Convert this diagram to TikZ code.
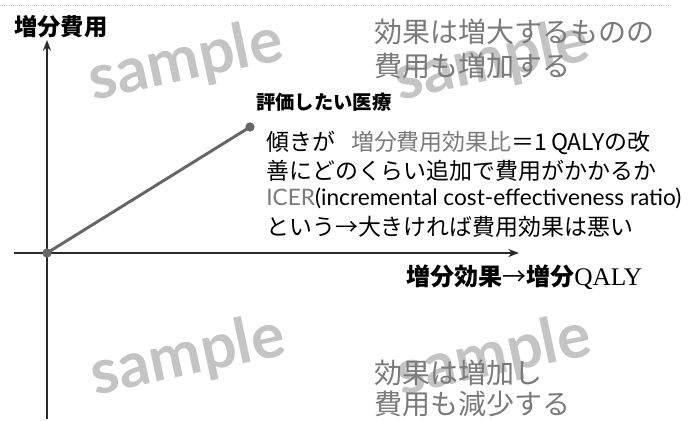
\documentclass[tikz,border=0pt]{standalone}
\usepackage{fontspec}
\setmainfont{Noto Sans CJK JP}
\newfontfamily\jp{Noto Sans CJK JP}
\newfontfamily\latin{Lato}
\newfontfamily\serifl{Liberation Serif}
\usetikzlibrary{arrows.meta}
\definecolor{txtgray}{HTML}{7A7A7A}
\definecolor{wmgray}{HTML}{C4C4C4}
\definecolor{linegray}{HTML}{666666}
\definecolor{axis}{HTML}{2A2A2A}
\tikzset{
  axisline/.style={draw=axis, line width=2.2pt, -{Stealth[length=8pt,width=6pt]}},
  wm/.style={text=wmgray, font=\latin\bfseries\fontsize{47}{47}\selectfont, rotate=12},
  body/.style={anchor=west, inner sep=0pt, font=\jp\fontsize{17.2}{20}\selectfont},
  note/.style={anchor=west, inner sep=0pt, text=txtgray, font=\jp\fontsize{21}{24}\selectfont},
  lbl/.style={anchor=west, inner sep=0pt, font=\jp\bfseries\fontsize{14.5}{18}\selectfont},
  dot/.style={circle, fill=linegray, inner sep=0pt, minimum size=7pt}
}
\begin{document}
\begin{tikzpicture}[x=0.75pt,y=-0.75pt]
\useasboundingbox (0,0) rectangle (696,421);
% watermarks
\node[wm] (w1) at (186,62) {sample};
\node[wm] (w2) at (492,62) {sample};
\node[wm] (w3) at (188,357) {sample};
\node[wm] (w4) at (494,357) {sample};
% top dotted rule
\coordinate (r1) at (0,5);
\coordinate (r2) at (672,5);
\draw[wmgray, densely dotted, line width=0.6pt] (r1) -- (r2);
% axes
\coordinate (o) at (47,253);
\coordinate (ybot) at (47,419);
\coordinate (ytop) at (47,40);
\coordinate (xl) at (14,253);
\coordinate (xr) at (519,253);
\draw[axisline] (ybot) -- (ytop);
\draw[axisline] (xl) -- (xr);
% line to point
\node[dot] (p0) at (o) {};
\node[dot] (p1) at (250,127) {};
\draw[linegray, line width=2.2pt] (p0.center) -- (p1.center);
% axis labels
\node[lbl, font=\jp\bfseries\fontsize{17.5}{20}\selectfont] (ylab) at (14,27) {増分費用};
\node[lbl] (pt) at (256,102) {評価したい医療};
\node[anchor=west, inner sep=0pt, font=\jp\bfseries\fontsize{18}{20}\selectfont] (xlab) at (406,277) {増分効果{\mdseries →}増分{\serifl\mdseries\fontsize{19}{20}\selectfont QALY}};
% body text
\node[body] (b1) at (266,143) {傾きが\hspace{0.7em}{\color{txtgray}増分費用効果比}＝1\,QALYの改};
\node[body] (b2) at (266,170.5) {善にどのくらい追加で費用がかかるか};
\node[body, font=\latin\fontsize{17}{20}\selectfont] (b3) at (266,198.5) {{\color{txtgray}ICER}(incremental cost-effectiveness ratio)};
\node[body] (b4) at (266,227) {という→大きければ費用効果は悪い};
% quadrant notes
\node[note] (n1) at (374,32) {効果は増大するものの};
\node[note] (n2) at (374,66) {費用も増加する};
\node[note] (n3) at (374,373) {効果は増加し};
\node[note] (n4) at (374,404) {費用も減少する};
\end{tikzpicture}
\end{document}
